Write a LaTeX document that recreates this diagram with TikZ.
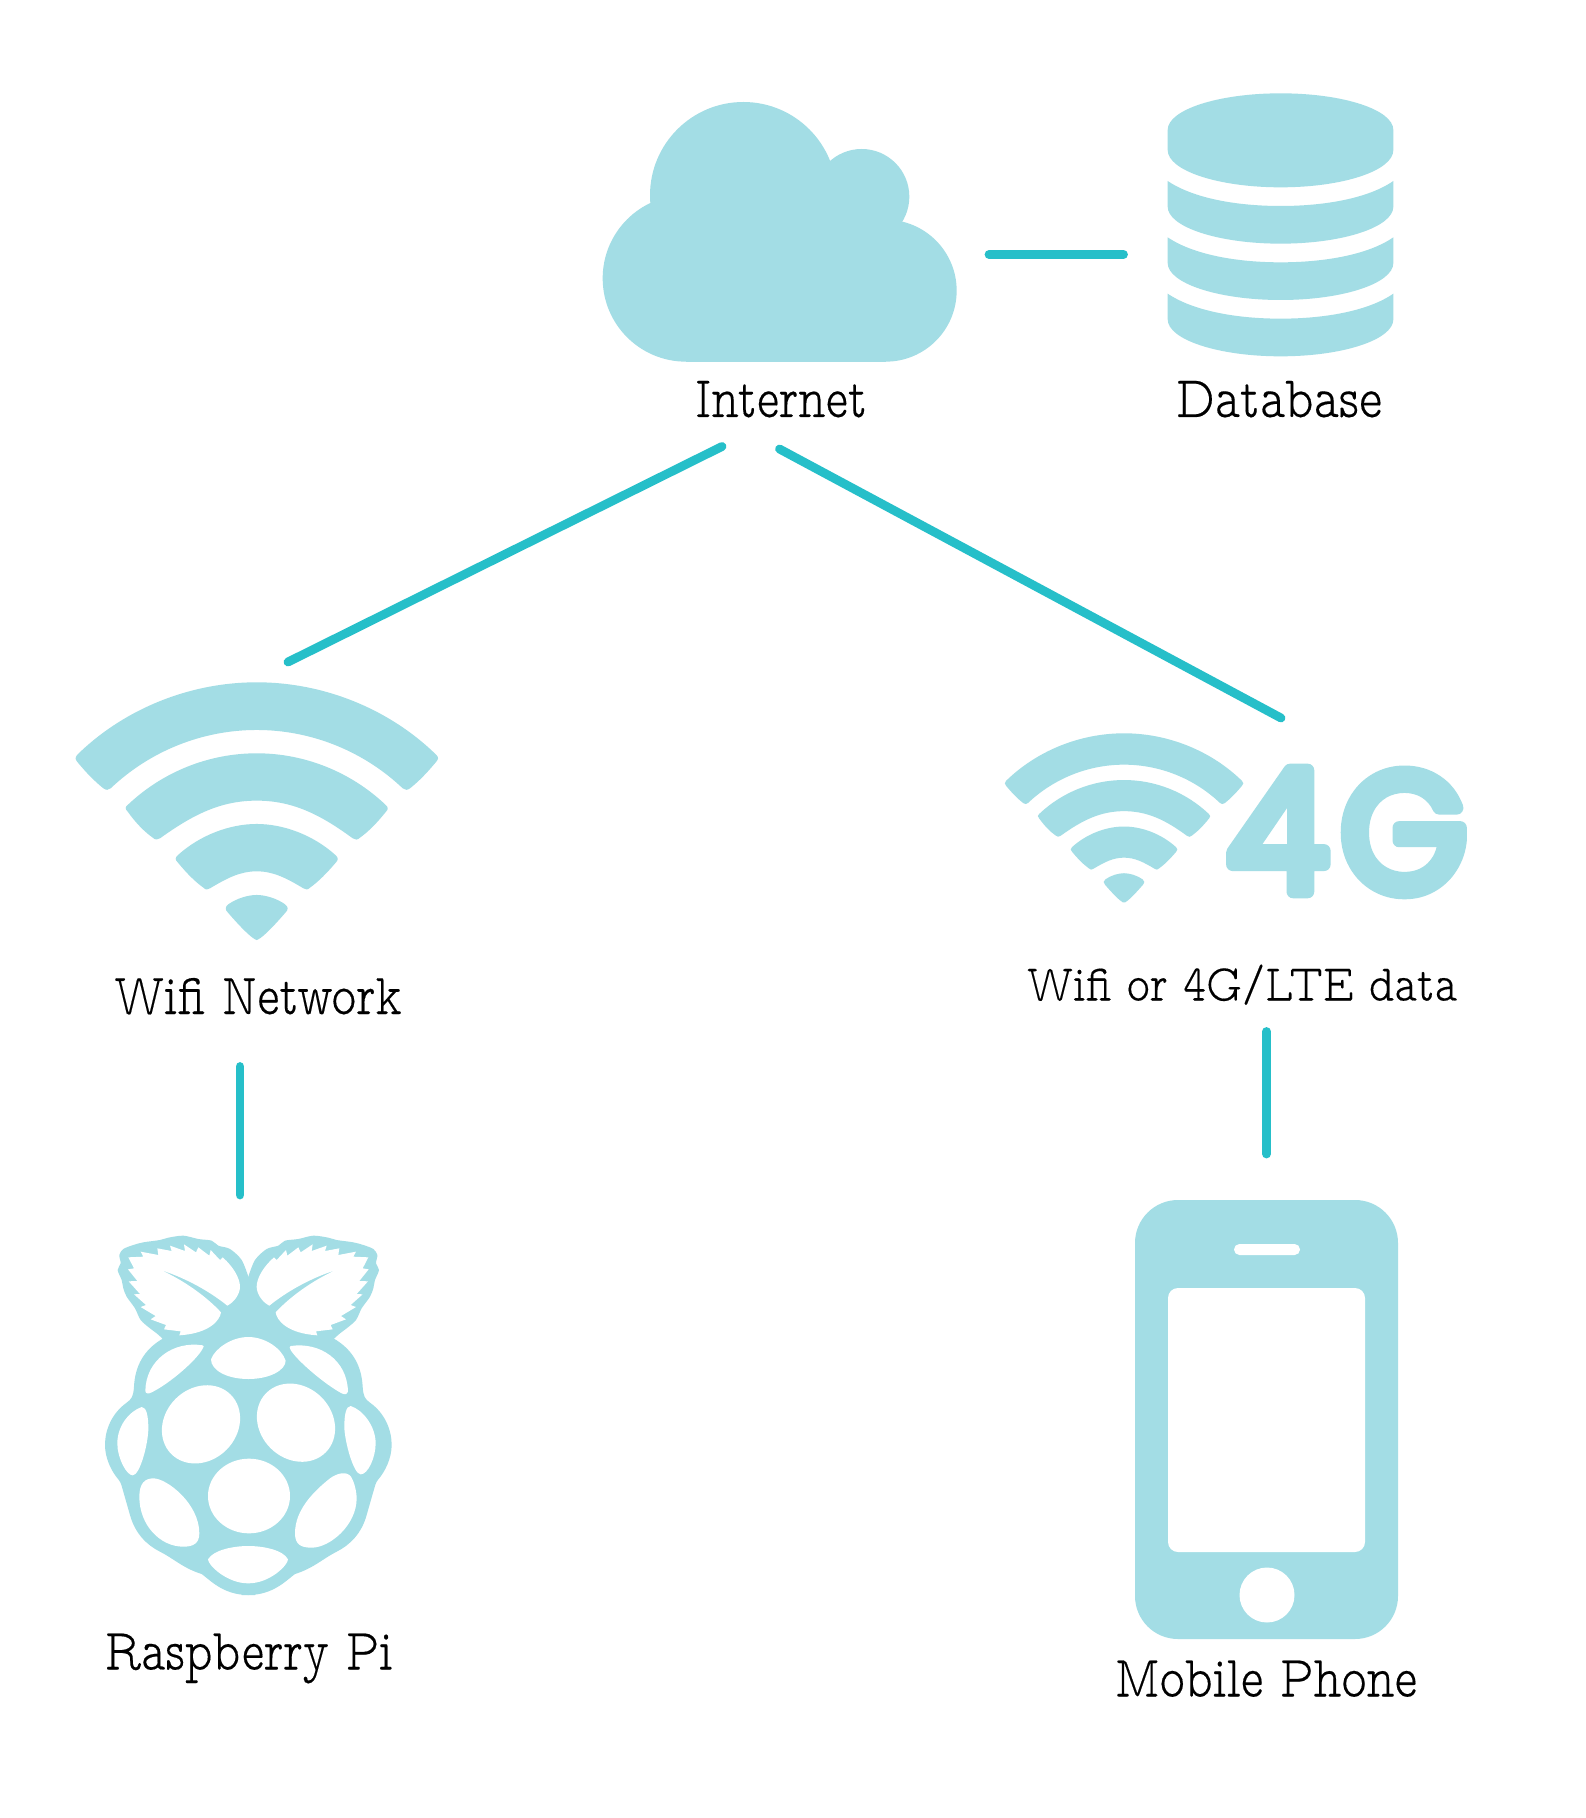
\documentclass[tikz,border=0pt]{standalone}
\usepackage{fontspec}
\usepackage{graphicx}
\setmainfont[Ligatures=TeX,FakeBold=0.3]{lmmonoproplt10-regular.otf}
\newfontfamily\fgfont[FakeBold=8]{Poppins}
\definecolor{iconc}{HTML}{A3DDE5}
\definecolor{linkc}{HTML}{26BFC9}
\tikzset{
  icon/.style={fill=iconc,draw=none},
  hole/.style={fill=white,draw=none},
  linkline/.style={draw=linkc,line width=4.4pt,line cap=round},
  lab/.style={anchor=base,inner sep=0pt,outer sep=0pt,text=black}
}
\newcommand{\lbl}[2]{\resizebox{#1pt}{18pt}{#2}}
\newcommand{\wifiicon}{%
  \begin{scope}[shift={(-590,-37)}]
  \fill[icon] (52,254) .. controls (190,119) and (386,37) .. (590,37) .. controls (794,37) and (990,119) .. (1128,254) .. controls (1137,262) and (1135,268) .. (1128,276) .. controls (1100,310) and (1075,335) .. (1050,355) .. controls (1042,361) and (1035,361) .. (1028,355) .. controls (910,243) and (753,180) .. (590,180) .. controls (427,180) and (270,243) .. (152,355) .. controls (145,361) and (138,361) .. (130,355) .. controls (105,335) and (80,310) .. (52,276) .. controls (45,268) and (45,262) .. (52,254) -- cycle;
  \fill[icon] (203,405) .. controls (307,306) and (446,250) .. (590,250) .. controls (734,250) and (873,306) .. (977,405) .. controls (985,412) and (985,418) .. (978,425) .. controls (950,460) and (925,485) .. (900,503) .. controls (893,510) and (885,511) .. (878,505) .. controls (780,433) and (697,392) .. (590,392) .. controls (483,392) and (400,433) .. (300,505) .. controls (293,510) and (285,510) .. (278,503) .. controls (253,485) and (228,460) .. (203,425) .. controls (195,418) and (195,410) .. (203,405) -- cycle;
  \fill[icon] (353,556) .. controls (420,495) and (510,462) .. (590,462) .. controls (670,462) and (760,495) .. (827,556) .. controls (835,563) and (835,570) .. (828,577) .. controls (800,610) and (775,635) .. (750,653) .. controls (743,660) and (737,660) .. (730,655) .. controls (680,625) and (640,604) .. (590,604) .. controls (540,604) and (500,625) .. (450,655) .. controls (443,660) and (437,660) .. (430,653) .. controls (405,635) and (380,610) .. (353,577) .. controls (345,570) and (345,563) .. (353,556) -- cycle;
  \fill[icon] (505,703) .. controls (530,685) and (565,675) .. (590,675) .. controls (615,675) and (650,685) .. (675,703) .. controls (685,710) and (685,720) .. (677,727) .. controls (640,770) and (610,800) .. (595,808) .. controls (591,811) and (589,811) .. (585,808) .. controls (570,800) and (540,770) .. (503,727) .. controls (495,720) and (495,710) .. (505,703) -- cycle;
  \end{scope}}
\newcommand{\berryhalf}{%
  \fill[icon] plot[smooth,tension=0.5] coordinates {(565,230) (585,180) (620,147) (655,137) (675,122) (715,117) (760,107) (805,113) (830,120) (880,127) (910,135) (940,147) (952,165) (948,190) (957,210) (945,240) (940,265) (930,290) (905,325) (888,360) (860,385) (840,400) (822,416)} .. controls (880,450) and (905,500) .. (908,560) .. controls (910,590) and (915,597) .. (930,608) .. controls (975,640) and (995,690) .. (995,735) .. controls (995,775) and (975,815) .. (955,838) .. controls (945,850) and (945,860) .. (940,875) -- (920,945) .. controls (905,1000) and (870,1035) .. (830,1055) .. controls (790,1075) and (760,1105) .. (705,1122) .. controls (680,1140) and (640,1185) .. (565,1185) -- (545,1185) -- (545,300) -- cycle;}
\newcommand{\berryleaf}{%
  \begin{scope}[shift={(510,75)}]
  \fill[hole] (118,242) .. controls (170,200) and (240,160) .. (318,135) .. controls (250,165) and (180,215) .. (137,262) .. controls (140,285) and (170,325) .. (262,331) -- (258,319) -- (308,313) -- (302,300) -- (348,283) -- (333,273) -- (378,246) -- (362,240) -- (398,208) -- (380,207) -- (414,169) -- (388,168) -- (416,133) -- (398,130) -- (415,97) -- (370,95) -- (378,80) -- (325,90) -- (328,70) -- (285,78) -- (290,62) -- (245,78) -- (248,58) -- (212,82) -- (205,67) -- (172,92) -- (168,75) -- (140,105) -- (132,97) .. controls (100,125) and (80,160) .. (80,185) .. controls (80,205) and (95,230) .. (118,242) -- cycle;
  \end{scope}}
\begin{document}
\begin{tikzpicture}[x=0.5pt,y=-0.5pt]
\useasboundingbox (0,0) rectangle (1585,1818);
\fill[white] (0,0) rectangle (1585,1818);
% cloud
\begin{scope}[shift={(590,90)},scale=1/3]
  \fill[icon] (288,565) circle (250);
  \fill[icon] (460,316) circle (280);
  \fill[icon] (815,320) circle (143);
  \fill[icon] (887,602) circle (213);
  \fill[icon] (288,400) rectangle (887,815);
\end{scope}
% database
\begin{scope}[shift={(1160,80)},scale=1/3]
  \fill[icon] (23,150) .. controls (23,89) and (175,40) .. (362,40) .. controls (549,40) and (700,89) .. (700,150) -- (700,210) .. controls (700,272) and (549,322) .. (362,322) .. controls (175,322) and (23,272) .. (23,210) -- cycle;
  \foreach \d in {0,169,338} {
  \fill[icon] (23,303+\d) .. controls (100,355+\d) and (230,378+\d) .. (362,378+\d) .. controls (494,378+\d) and (625,355+\d) .. (700,303+\d) -- (700,380+\d) .. controls (700,441+\d) and (549,491+\d) .. (362,491+\d) .. controls (175,491+\d) and (23,441+\d) .. (23,380+\d) -- cycle;}
\end{scope}
% big wifi
\begin{scope}[shift={(256.7,682.3)},scale=1/3]
  \wifiicon
\end{scope}
% small wifi
\begin{scope}[shift={(1124,733.3)},scale=0.2193]
  \wifiicon
\end{scope}
% raspberry
\begin{scope}[shift={(60,1200)},scale=1/3]
  \berryhalf
  \begin{scope}[shift={(1130,0)},xscale=-1]
    \berryhalf
    \berryleaf
  \end{scope}
  \berryleaf
  \fill[hole] (453,478) .. controls (465,445) and (515,411) .. (565,411) .. controls (615,411) and (665,445) .. (677,482) .. controls (677,510) and (630,537) .. (565,537) .. controls (500,537) and (453,510) .. (453,478) -- cycle;
  \fill[hole] (692,438) .. controls (780,425) and (862,480) .. (864,575) .. controls (864,583) and (855,585) .. (845,580) .. controls (790,550) and (710,480) .. (692,450) .. controls (688,443) and (688,440) .. (692,438) -- cycle;
  \fill[hole] (428,436) .. controls (340,422) and (258,480) .. (256,572) .. controls (256,582) and (265,582) .. (275,577) .. controls (330,550) and (410,480) .. (428,446) .. controls (432,440) and (432,437) .. (428,436) -- cycle;
  \fill[hole] (423,673) ellipse [x radius=126,y radius=108,rotate=45];
  \fill[hole] (708,668) ellipse [x radius=126,y radius=108,rotate=-45];
  \fill[hole] (567,888) ellipse [x radius=123,y radius=112];
  \fill[hole] (872,618) .. controls (910,630) and (947,680) .. (947,730) .. controls (947,770) and (925,823) .. (902,823) .. controls (880,823) and (853,720) .. (853,680) .. controls (853,645) and (858,618) .. (872,618) -- cycle;
  \fill[hole] (245,621) .. controls (205,635) and (172,680) .. (172,730) .. controls (172,775) and (200,826) .. (218,826) .. controls (240,826) and (265,730) .. (265,685) .. controls (265,650) and (260,621) .. (245,621) -- cycle;
  \fill[hole] (705,1000) .. controls (705,930) and (760,875) .. (810,835) .. controls (830,820) and (860,812) .. (873,830) .. controls (885,850) and (890,880) .. (890,895) .. controls (890,975) and (810,1043) .. (755,1043) .. controls (725,1043) and (705,1035) .. (705,1000) -- cycle;
  \fill[hole] (238,890) .. controls (238,850) and (255,835) .. (280,835) .. controls (320,835) and (418,910) .. (418,1000) .. controls (418,1030) and (400,1040) .. (370,1040) .. controls (300,1040) and (238,975) .. (238,890) -- cycle;
  \fill[hole] (444,1078) .. controls (460,1050) and (520,1038) .. (565,1038) .. controls (610,1038) and (670,1050) .. (684,1078) .. controls (684,1095) and (630,1150) .. (565,1150) .. controls (500,1150) and (444,1095) .. (444,1078) -- cycle;
\end{scope}
% phone
\fill[icon,rounded corners=21.5pt] (1135,1200) rectangle (1398,1639);
\fill[hole,rounded corners=5pt] (1168,1288) rectangle (1365,1552);
\fill[hole,rounded corners=2.7pt] (1234,1244) rectangle (1300,1255);
\fill[hole] (1267,1595) circle (27.5);
% labels
\node[lab] (internet) at (781,417) {\lbl{86}{Internet}};
\node[lab] (database) at (1279,417) {\lbl{103}{Database}};
\node[lab] (wifinet) at (258,1014) {\lbl{143.5}{Wifi Network}};
\node[lab] (wifi4g) at (1242,1000.5) {\lbl{215}{Wifi or 4G/LTE data}};
\node[lab] (rasp) at (249,1669.5) {\lbl{144}{Raspberry Pi}};
\node[lab] (mobile) at (1266,1696.5) {\lbl{151}{Mobile Phone}};
\node[lab,text=iconc] (fourg) at (1346.7,891.5) {\resizebox{120.6pt}{60.5pt}{\pgfsetroundjoin\fgfont 4\kern0.07em G}};
% connectors
\coordinate (cloudR) at (989,254.5);
\coordinate (dbL) at (1123.5,254.5);
\coordinate (inetL) at (722,446.5);
\coordinate (wifiT) at (288,662);
\coordinate (inetR) at (779.5,449);
\coordinate (fgT) at (1281,718);
\coordinate (fgB) at (1266.5,1031.5);
\coordinate (phT) at (1266.5,1154);
\coordinate (wnB) at (240,1066.5);
\coordinate (rpT) at (240,1195);
\draw[linkline] (cloudR) -- (dbL);
\draw[linkline] (inetL) -- (wifiT);
\draw[linkline] (inetR) -- (fgT);
\draw[linkline] (fgB) -- (phT);
\draw[linkline] (wnB) -- (rpT);
\end{tikzpicture}
\end{document}
